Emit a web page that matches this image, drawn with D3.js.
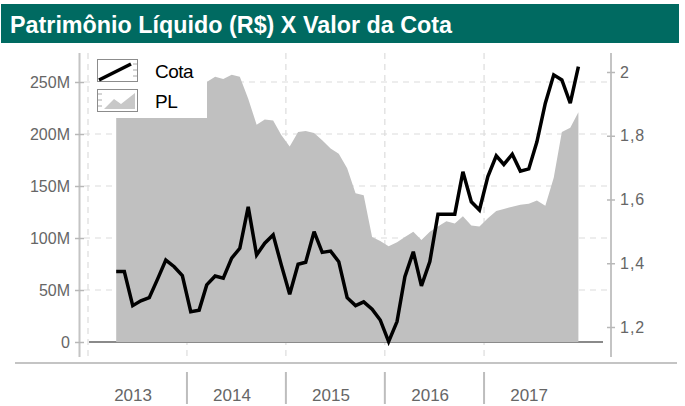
<!DOCTYPE html>
<html><head><meta charset="utf-8">
<script src="https://cdn.jsdelivr.net/npm/d3@7/dist/d3.min.js"></script>
<style>
html,body{margin:0;padding:0;background:#fff;}
svg{display:block;font-family:"Liberation Sans",Arial,sans-serif;}
</style></head>
<body><svg id="c" width="685" height="406"></svg>
<script>
const title = "Patrimônio Líquido (R$) X Valor da Cota";
const months = ["2013-04","2013-05","2013-06","2013-07","2013-08","2013-09","2013-10","2013-11","2013-12",
"2014-01","2014-02","2014-03","2014-04","2014-05","2014-06","2014-07","2014-08","2014-09","2014-10","2014-11","2014-12",
"2015-01","2015-02","2015-03","2015-04","2015-05","2015-06","2015-07","2015-08","2015-09","2015-10","2015-11","2015-12",
"2016-01","2016-02","2016-03","2016-04","2016-05","2016-06","2016-07","2016-08","2016-09","2016-10","2016-11","2016-12",
"2017-01","2017-02","2017-03","2017-04","2017-05","2017-06","2017-07","2017-08","2017-09","2017-10","2017-11","2017-12"];
// Valor da cota (R$)
const cota = [1.374,1.374,1.267,1.282,1.292,1.351,1.410,1.389,1.361,
1.248,1.253,1.332,1.360,1.353,1.416,1.447,1.577,1.426,1.463,1.489,1.395,
1.303,1.397,1.403,1.499,1.434,1.438,1.405,1.292,1.267,1.279,1.256,1.222,
1.154,1.217,1.358,1.436,1.329,1.405,1.554,1.554,1.554,1.687,1.593,1.567,
1.672,1.737,1.710,1.742,1.689,1.696,1.781,1.902,1.991,1.975,1.902,2.017];
// Patrimônio líquido (milhões de R$)
const pl = [236,238,240,242,240,243,245,244,246,
248,249,250,255,253,257,255,234,209,214,213,199,
188,202,203,201,194,186,181,167,143,141,101,97,
92,96,101,106,98,106,111,116,114,121,112,111,
119,126,128,130,132,133,136,131,158,202,206,221];
const plTicks = [0,50,100,150,200,250];
const plTickLabels = ["0","50M","100M","150M","200M","250M"];
const cotaTicks = [1.2,1.4,1.6,1.8,2.0];
const cotaTickLabels = ["1,2","1,4","1,6","1,8","2"];
const years = [2013,2014,2015,2016,2017];
const legendLabels = ["Cota","PL"];

const parse = d3.timeParse("%Y-%m-%d");
const dates = months.map(m => parse(m + "-15"));
const svg = d3.select("#c");

// title bar
svg.append("rect").attr("x",1).attr("y",4).attr("width",678).attr("height",39).attr("fill","#006a61");
svg.append("text").attr("x",10).attr("y",33).attr("fill","#fff").attr("font-weight","bold")
  .attr("font-size",24).attr("textLength",442).attr("lengthAdjust","spacingAndGlyphs").text(title);

const x = d3.scaleTime().domain([new Date(2013,0,1), new Date(2018,0,1)]).range([88,583]);
const yL = d3.scaleLinear().domain([0,250]).range([342,82]);
const yR = d3.scaleLinear().domain([1.2,2.0]).range([327,72]);
const plotTop = 53, plotBot = 357;

// grid
const grid = svg.append("g").attr("stroke","#dcdcdc").attr("stroke-width",1.2).attr("stroke-dasharray","6,5");
grid.selectAll("line.h").data(plTicks.slice(1)).join("line").attr("class","h")
  .attr("x1",84).attr("x2",607).attr("y1",d=>yL(d)).attr("y2",d=>yL(d));
grid.selectAll("line.v").data(years).join("line").attr("class","v")
  .attr("x1",d=>x(new Date(d,0,1))).attr("x2",d=>x(new Date(d,0,1))).attr("y1",plotTop).attr("y2",plotBot);

// baseline
svg.append("line").attr("x1",89).attr("x2",603).attr("y1",yL(0)).attr("y2",yL(0))
  .attr("stroke","#8a8a8a").attr("stroke-width",2);

// area
const area = d3.area().x((d,i)=>x(dates[i])).y0(yL(0)).y1(d=>yL(d));
svg.append("path").datum(pl).attr("d",area).attr("fill","#c0c0c0");

// axes lines
svg.append("line").attr("x1",79.5).attr("x2",79.5).attr("y1",plotTop).attr("y2",plotBot).attr("stroke","#c4c4c4").attr("stroke-width",2);
svg.append("line").attr("x1",611).attr("x2",611).attr("y1",plotTop).attr("y2",plotBot).attr("stroke","#c4c4c4").attr("stroke-width",2);
svg.append("line").attr("x1",15).attr("x2",677).attr("y1",363).attr("y2",363).attr("stroke","#c4c4c4").attr("stroke-width",2);

const axL = d3.axisLeft(yL).tickValues(plTicks).tickFormat((d,i)=>plTickLabels[i]).tickSize(9).tickPadding(5);
const gL = svg.append("g").attr("transform","translate(84,0)").call(axL);
const axR = d3.axisRight(yR).tickValues(cotaTicks).tickFormat((d,i)=>cotaTickLabels[i]).tickSize(8).tickPadding(5);
const gR = svg.append("g").attr("transform","translate(607,0)").call(axR);
[gL,gR].forEach(g=>{
  g.select(".domain").remove();
  g.selectAll(".tick line").attr("stroke","#b8b8b8").attr("stroke-width",1.5);
  g.selectAll(".tick text").attr("fill","#666").attr("font-size",16).attr("font-family","Liberation Sans, Arial, sans-serif");
});
gR.selectAll(".tick text").attr("letter-spacing",1);

// year separators and labels
svg.append("g").selectAll("line").data(years.slice(1)).join("line")
  .attr("x1",d=>x(new Date(d,0,1))).attr("x2",d=>x(new Date(d,0,1))).attr("y1",372).attr("y2",404)
  .attr("stroke","#bdbdbd").attr("stroke-width",2);
svg.append("g").selectAll("text").data(years).join("text")
  .attr("x",d=>x(new Date(d,6,1))-4).attr("y",401).attr("text-anchor","middle")
  .attr("fill","#666").attr("font-size",17).text(d=>d);

// cota line
const line = d3.line().x((d,i)=>x(dates[i])).y(d=>yR(d));
svg.append("path").datum(cota).attr("d",line).attr("fill","none").attr("stroke","#000")
  .attr("stroke-width",3.5).attr("stroke-linejoin","miter").attr("stroke-miterlimit",3);

// legend
const lg = svg.append("g");
lg.append("rect").attr("x",90).attr("y",53).attr("width",117).attr("height",65).attr("fill","#fff");
lg.append("rect").attr("x",97.5).attr("y",59.5).attr("width",40).attr("height",22).attr("fill","#fff").attr("stroke","#8c8c8c");
lg.append("line").attr("x1",99).attr("y1",80).attr("x2",131).attr("y2",64).attr("stroke","#000").attr("stroke-width",3.5);
[64,70,76].forEach(yy=>lg.append("line").attr("x1",133).attr("x2",137).attr("y1",yy).attr("y2",yy).attr("stroke","#aaa"));
lg.append("rect").attr("x",97.5).attr("y",89.5).attr("width",40).attr("height",22).attr("fill","#fff").attr("stroke","#8c8c8c");
lg.append("path").attr("d","M104,109L114,99L121,104L135,93L135,109Z").attr("fill","#c8c8c8");
[94,100,106].forEach(yy=>lg.append("line").attr("x1",98).attr("x2",102).attr("y1",yy).attr("y2",yy).attr("stroke","#aaa"));
lg.selectAll("text").data(legendLabels).join("text")
  .attr("x",155).attr("y",(d,i)=>78+i*30).attr("font-size",19).attr("fill","#000").attr("letter-spacing",-0.5).text(d=>d);
</script></body></html>
